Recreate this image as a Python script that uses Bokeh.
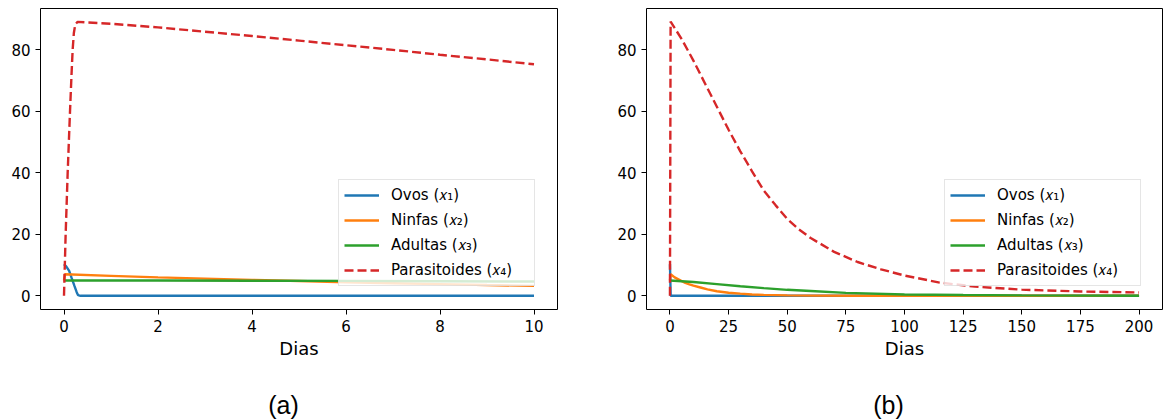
from bokeh.plotting import figure
from bokeh.models import Range1d, FixedTicker, Label
from bokeh.layouts import row, column
from bokeh.embed import file_html
from bokeh.resources import INLINE

# ---------------- data ----------------
labels = ["Ovos (𝑥₁)", "Ninfas (𝑥₂)", "Adultas (𝑥₃)", "Parasitoides (𝑥₄)"]
colors = ["#1f77b4", "#ff7f0e", "#2ca02c", "#d62728"]

# panel (a): 0..10 days
ovos_a_t = [0, 0.05, 0.11, 0.16, 0.22, 0.27, 0.30, 0.35, 10]
ovos_a = [10.3, 9.5, 8.1, 5.9, 3.3, 1.2, 0.2, 0.0, 0.0]
ninfas_a_t = [0, 0.02, 1, 2, 3, 4, 5, 6, 7, 8, 9, 10]
ninfas_a = [5.0, 7.0, 6.5, 6.0, 5.6, 5.2, 4.8, 4.4, 4.1, 3.8, 3.5, 3.25]
adultas_a_t = [0, 2, 4, 6, 8, 10]
adultas_a = [5.0, 4.98, 4.92, 4.85, 4.75, 4.65]
paras_a_t = [0, 0.035, 0.078, 0.128, 0.16, 0.184, 0.21, 0.24, 0.29, 0.5, 1, 2, 3, 4, 5, 6, 7, 8, 9, 10]
paras_a = [0, 20, 40, 60, 72, 80, 85.5, 88.3, 89.1, 88.9, 88.5, 87.3, 85.9, 84.5, 83.0, 81.5, 80.0, 78.4, 76.9, 75.3]

# panel (b): 0..200 days
ovos_b_t = [0, 0.3, 200]
ovos_b = [10.3, 0.0, 0.0]
ninfas_b_t = [0, 0.3, 2, 4, 6, 8, 10, 13, 16, 20, 25, 30, 35, 40, 50, 60, 80, 100, 150, 200]
ninfas_b = [5.0, 7.0, 6.0, 5.2, 4.4, 3.8, 3.3, 2.7, 2.1, 1.5, 1.0, 0.7, 0.45, 0.3, 0.15, 0.07, 0.02, 0.01, 0.0, 0.0]
adultas_b_t = [0, 10, 20, 30, 40, 50, 60, 75, 100, 125, 150, 200]
adultas_b = [5.0, 4.5, 3.8, 3.1, 2.5, 1.95, 1.55, 0.95, 0.45, 0.25, 0.13, 0.04]
paras_b_t = [0, 0.28, 5, 10, 15, 20, 25, 30, 35, 40, 45, 50, 55, 60, 70, 80, 90, 100, 115, 130, 150, 175, 200]
paras_b = [0, 89.2, 83.5, 76.5, 69.0, 61.5, 54.0, 47.0, 40.5, 34.2, 29.5, 25.0, 21.6, 18.8, 14.3, 11.0, 8.6, 6.6, 4.3, 3.0, 2.0, 1.4, 1.1]

y_ticks = [0, 20, 40, 60, 80]
x_ticks_a = [0, 2, 4, 6, 8, 10]
x_ticks_b = [0, 25, 50, 75, 100, 125, 150, 175, 200]
captions = ["(a)", "(b)"]
x_label = "Dias"


def make_panel(series, xr, xticks, min_left, min_right):
    p = figure(width=582, height=385, x_range=Range1d(*xr), y_range=Range1d(-4.45, 93.45),
               output_backend="svg", toolbar_location=None,
               min_border_left=min_left, min_border_right=min_right,
               min_border_top=8, min_border_bottom=76)
    p.background_fill_color = "white"
    p.border_fill_color = "white"
    p.outline_line_color = "black"
    p.outline_line_width = 1
    p.outline_line_alpha = 1
    p.xgrid.grid_line_color = None
    p.ygrid.grid_line_color = None
    for ax in (p.xaxis[0], p.yaxis[0]):
        ax.axis_line_color = None
        ax.major_tick_out = 5
        ax.major_tick_in = 0
        ax.minor_tick_line_color = None
        ax.major_tick_line_color = "black"
        ax.major_label_text_font = "DejaVu Sans"
        ax.major_label_text_font_size = "15px"
        ax.major_label_text_color = "black"
        ax.major_label_standoff = 5
    p.xaxis[0].ticker = FixedTicker(ticks=xticks)
    p.yaxis[0].ticker = FixedTicker(ticks=y_ticks)
    p.xaxis[0].axis_label = x_label
    p.xaxis[0].axis_label_text_font = "DejaVu Sans"
    p.xaxis[0].axis_label_text_font_size = "18px"
    p.xaxis[0].axis_label_text_font_style = "normal"
    p.xaxis[0].axis_label_text_color = "black"
    p.xaxis[0].axis_label_standoff = 3

    for (t, v), lab, col in zip(series, labels, colors):
        dash = "9 4" if lab.startswith("Parasitoides") else "solid"
        p.line(t, v, line_color=col, line_width=2.4, line_dash=dash, legend_label=lab)

    lg = p.legend[0]
    lg.location = (298, 23)
    lg.label_text_font = "DejaVu Sans"
    lg.label_text_font_size = "15px"
    lg.label_text_color = "black"
    lg.glyph_width = 35
    lg.glyph_height = 20
    lg.label_height = 20
    lg.label_width = 138
    lg.label_standoff = 12
    lg.spacing = 5
    lg.padding = 5
    lg.margin = 0
    lg.border_line_color = "#cccccc"
    lg.border_line_width = 1
    lg.background_fill_color = "white"
    lg.background_fill_alpha = 0.8
    return p


def make_caption(text, cx):
    c = figure(width=582, height=35, x_range=Range1d(0, 582), y_range=Range1d(0, 35),
               output_backend="svg", toolbar_location=None,
               x_axis_type=None, y_axis_type=None,
               min_border_left=0, min_border_right=0, min_border_top=0, min_border_bottom=0)
    c.outline_line_color = None
    c.xgrid.grid_line_color = None
    c.ygrid.grid_line_color = None
    c.add_layout(Label(x=cx, y=16, text=text, text_align="center", text_baseline="middle",
                       text_font="Liberation Sans", text_font_size="25px", text_color="black"))
    return c


p1 = make_panel([(ovos_a_t, ovos_a), (ninfas_a_t, ninfas_a), (adultas_a_t, adultas_a), (paras_a_t, paras_a)],
                (-0.5, 10.5), x_ticks_a, 40, 25)
p2 = make_panel([(ovos_b_t, ovos_b), (ninfas_b_t, ninfas_b), (adultas_b_t, adultas_b), (paras_b_t, paras_b)],
                (-10, 210), x_ticks_b, 64, 2)
c1 = make_caption(captions[0], 283)
c2 = make_caption(captions[1], 306)

layout = column(row(p1, p2), row(c1, c2))
open("out.html", "w").write(file_html(layout, INLINE))
